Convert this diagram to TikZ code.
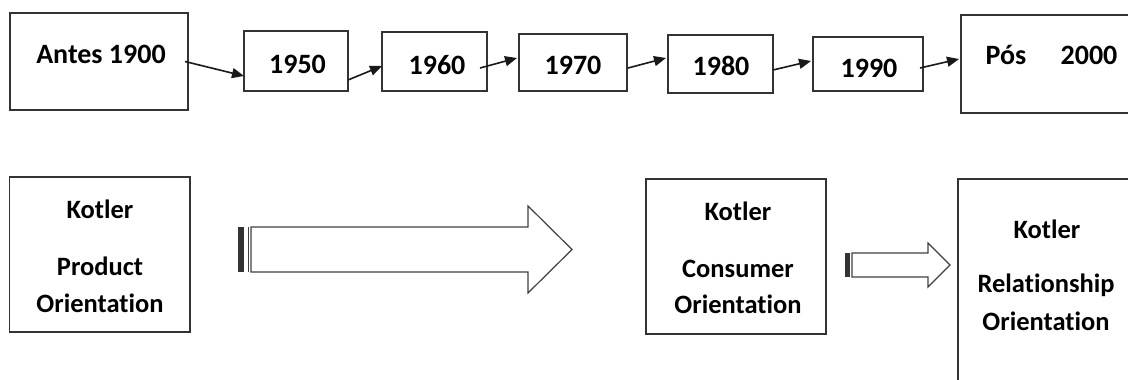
\documentclass[tikz,border=0pt]{standalone}
\usepackage{fontspec}
\setmainfont{Carlito}[RawFeature={-liga;-clig}]
\usetikzlibrary{arrows.meta}
\begin{document}
\begin{tikzpicture}[x=1pt,y=-1pt,
  box/.style={draw=black!80,line width=1.3pt,inner sep=0pt,outer sep=0pt},
  toplbl/.style={inner sep=0pt,anchor=base,font=\fontsize{28}{28}\selectfont\bfseries},
  botlbl/.style={inner sep=0pt,anchor=base,font=\fontsize{26.5}{26.5}\selectfont\bfseries},
  conn/.style={line width=1.6pt,black!90,-{Triangle[length=12pt,width=10pt]}},
  blockarrow/.style={draw=black!75,line width=1.2pt,fill=white,line join=miter},
  tailbar/.style={fill=black!80,draw=none}]
\useasboundingbox (0,0) rectangle (1128,380);
\clip (0,0) rectangle (1128,380);
% top boxes
\node[box,minimum width=178pt,minimum height=97pt] (antes) at (99,61.5) {};
\node[box,minimum width=104pt,minimum height=60pt] (b1950) at (296,61) {};
\node[box,minimum width=105pt,minimum height=59pt] (b1960) at (434.5,61.5) {};
\node[box,minimum width=108pt,minimum height=57pt] (b1970) at (573,62.5) {};
\node[box,minimum width=105pt,minimum height=58pt] (b1980) at (720.5,64) {};
\node[box,minimum width=110pt,minimum height=54pt] (b1990) at (868,64) {};
\node[box,minimum width=179pt,minimum height=98pt] (pos) at (1050.5,64) {};
% top labels
\node[toplbl] (tantes) at (101,63) {Antes 1900};
\node[toplbl] (t1950) at (297.5,73) {1950};
\node[toplbl] (t1960) at (437,74) {1960};
\node[toplbl] (t1970) at (573,74) {1970};
\node[toplbl] (t1980) at (721,75) {1980};
\node[toplbl] (t1990) at (869,77) {1990};
\node[toplbl] (tpos) at (1006,64) {Pós};
\node[toplbl] (t2000) at (1089,64) {2000};
% top connectors
\draw[conn] ([xshift=-3pt]antes.east) -- ([yshift=-15pt]b1950.west);
\draw[conn] ([yshift=-19pt]b1950.east) -- ([yshift=-4.5pt]b1960.west);
\draw[conn] ([xshift=-7pt,yshift=-6.5pt]b1960.east) -- ([xshift=-2pt,yshift=4.5pt]b1970.west);
\draw[conn] ([xshift=1pt,yshift=-5.5pt]b1970.east) -- ([xshift=-2pt,yshift=6pt]b1980.west);
\draw[conn] ([yshift=-6pt]b1980.east) -- ([xshift=-2pt,yshift=3pt]b1990.west);
\draw[conn] ([xshift=-3pt,yshift=-4pt]b1990.east) -- ([xshift=-2pt,yshift=5pt]pos.west);
% bottom boxes
\node[box,minimum width=180.5pt,minimum height=155pt] (product) at (99.75,254.5) {};
\node[box,minimum width=180pt,minimum height=155pt] (consumer) at (736,256.5) {};
\node[box,minimum width=182pt,minimum height=221pt] (relation) at (1049,289.5) {};
% bottom labels
\node[botlbl] (pk) at (100,218) {Kotler};
\node[botlbl] (pp) at (100,275) {Product};
\node[botlbl] (po) at (100,312) {Orientation};
\node[botlbl] (ck) at (738,220) {Kotler};
\node[botlbl] (cc) at (738,277) {Consumer};
\node[botlbl] (co) at (738,313) {Orientation};
\node[botlbl] (rk) at (1047,238) {Kotler};
\node[botlbl] (rr) at (1046,292) {Relationship};
\node[botlbl] (ro) at (1046,330) {Orientation};
% big striped block arrow
\fill[tailbar] (238,227) rectangle (244,272);
\draw[black!75,line width=1pt] (248,227) -- (248,272);
\draw[blockarrow] (251,227) -- (528,227) -- (528,206) -- (572,249.5) -- (528,293) -- (528,272) -- (251,272) -- cycle;
% small striped block arrow
\fill[tailbar] (845,253) rectangle (849.5,277);
\draw[blockarrow] (852,253) -- (928,253) -- (928,243) -- (950,265) -- (928,287) -- (928,277) -- (852,277) -- cycle;
\end{tikzpicture}
\end{document}
